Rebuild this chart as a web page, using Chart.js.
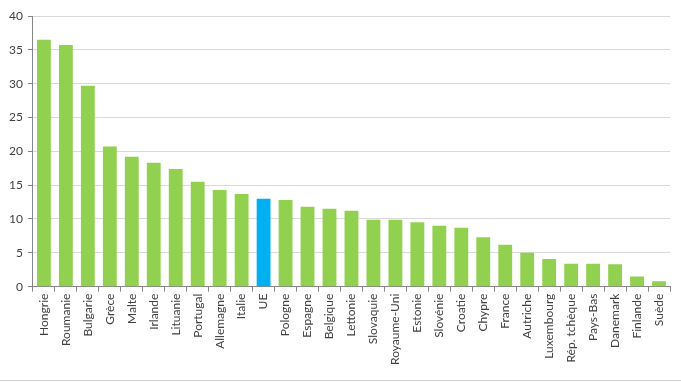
<!DOCTYPE html>
<html><head><meta charset="utf-8">
<script src="https://cdn.jsdelivr.net/npm/chart.js@4"></script>
<style>
html,body{margin:0;padding:0;background:#fff;}
#wrap{position:relative;width:681px;height:383px;}
#line{position:absolute;left:0;top:380px;width:681px;height:1px;background:#d0d0d0;}
</style></head>
<body>
<div id="wrap"><canvas id="c" width="681" height="383"></canvas><div id="line"></div></div>
<script>
const categories = ["Hongrie","Roumanie","Bulgarie","Grèce","Malte","Irlande","Lituanie","Portugal","Allemagne","Italie","UE","Pologne","Espagne","Belgique","Lettonie","Slovaquie","Royaume-Uni","Estonie","Slovénie","Croatie","Chypre","France","Autriche","Luxembourg","Rép. tchèque","Pays-Bas","Danemark","Finlande","Suède"];
const values = [36.5,35.7,29.7,20.7,19.2,18.3,17.4,15.5,14.3,13.7,13.0,12.8,11.8,11.5,11.2,9.9,9.9,9.5,9.0,8.7,7.3,6.2,5.0,4.1,3.4,3.4,3.3,1.5,0.8];
const yTicks = [0,5,10,15,20,25,30,35,40];
const highlight = "UE";
const green = "#92D050", blue = "#00B0F0";
const colors = categories.map(c => c === highlight ? blue : green);

new Chart(document.getElementById('c'), {
  type: 'bar',
  data: { labels: categories, datasets: [{ data: values, backgroundColor: colors, categoryPercentage: 1, barPercentage: 0.63 }] },
  options: {
    responsive: false, animation: false,
    layout: { padding: { left: 4, right: 11, top: 16, bottom: 16 } },
    plugins: { legend: { display: false }, tooltip: { enabled: false } },
    scales: {
      x: {
        grid: { display: true, drawOnChartArea: false, drawTicks: true, tickLength: 5, color: 'rgba(0,0,0,0)', tickColor: '#868686', offset: true },
        border: { color: '#868686' },
        ticks: { maxRotation: 90, minRotation: 90, autoSkip: false, color: '#404040', font: { family: 'Lato', size: 12 }, padding: 2 }
      },
      y: {
        min: 0, max: 40,
        afterBuildTicks: ax => { ax.ticks = yTicks.map(v => ({ value: v })); },
        grid: { color: '#d9d9d9', drawTicks: true, tickLength: 5, tickColor: '#868686' },
        border: { color: '#868686' },
        ticks: { color: '#404040', font: { family: 'Lato', size: 12 }, padding: 5 }
      }
    }
  }
});
</script>
</body></html>
